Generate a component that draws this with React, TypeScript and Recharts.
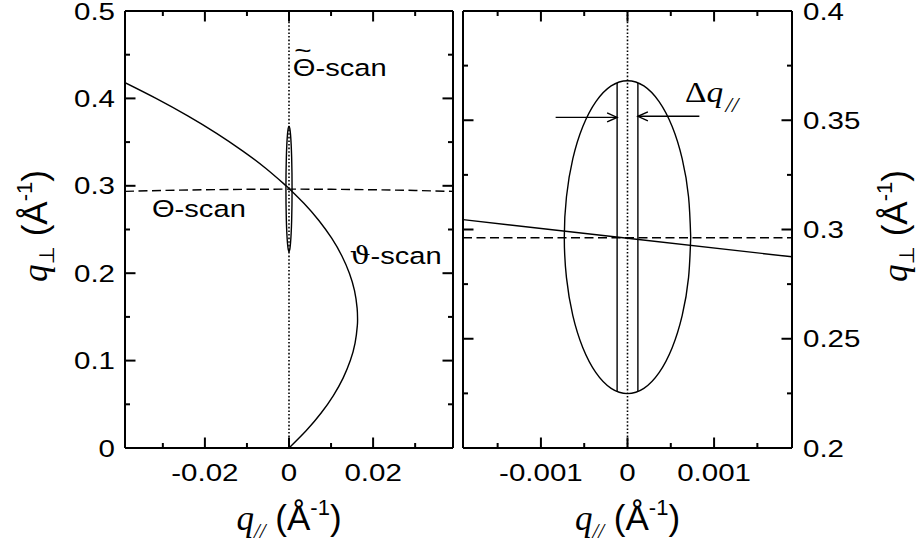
import React from 'react';
import { LineChart, Line, XAxis, YAxis, ReferenceLine, ReferenceDot, Label } from 'recharts';

// ---------------- data ----------------
// left panel (wide range)
const leftXDomain = [-0.039, 0.039];
const leftYDomain = [0, 0.5];
const leftXTicks = [-0.03, -0.02, -0.01, 0, 0.01, 0.02, 0.03];
const leftXMajor = [-0.02, 0, 0.02];
const leftXTickLabels = ['-0.02', '0', '0.02'];
const leftYTicks = [0, 0.05, 0.1, 0.15, 0.2, 0.25, 0.3, 0.35, 0.4, 0.45, 0.5];
const leftYMajor = [0, 0.1, 0.2, 0.3, 0.4, 0.5];
const leftYTickLabels = ['0', '0.1', '0.2', '0.3', '0.4', '0.5'];

// right panel (zoomed)
const rightXDomain = [-0.0019, 0.0019];
const rightYDomain = [0.2, 0.4];
const rightXTicks = [-0.0015, -0.001, -0.0005, 0, 0.0005, 0.001, 0.0015];
const rightXMajor = [-0.001, 0, 0.001];
const rightXTickLabels = ['-0.001', '0', '0.001'];
const rightYTicks = [0.2, 0.225, 0.25, 0.275, 0.3, 0.325, 0.35, 0.375, 0.4];
const rightYMajor = [0.2, 0.25, 0.3, 0.35, 0.4];
const rightYTickLabels = ['0.2', '0.25', '0.3', '0.35', '0.4'];

// vartheta-scan (solid curve)
const varthetaQpar = [0.0, 0.00412, 0.00764, 0.01055, 0.01286, 0.01458, 0.01571, 0.01625, 0.0163, 0.0162, 0.01558, 0.01436, 0.01255, 0.01015, 0.00715, 0.00354, 0.0, -0.00069, -0.00555, -0.01105, -0.01722, -0.02407, -0.03162, -0.039];
const varthetaQperp = [0.0, 0.02, 0.04, 0.06, 0.08, 0.1, 0.12, 0.14, 0.1485, 0.16, 0.18, 0.2, 0.22, 0.24, 0.26, 0.28, 0.297, 0.3, 0.32, 0.34, 0.36, 0.38, 0.4, 0.418];
const varthetaZoomQpar = [-0.0019, 0, 0.0019];
const varthetaZoomQperp = [0.3045, 0.296, 0.2875];

// Theta-scan (dashed)
const thetaQpar = [-0.039, -0.03, -0.02, -0.01, 0, 0.01, 0.02, 0.03, 0.039];
const thetaQperp = [0.2936, 0.2947, 0.2955, 0.296, 0.2962, 0.296, 0.2955, 0.2947, 0.2936];
const thetaZoomQpar = [-0.0019, 0.0019];
const thetaZoomQperp = [0.2962, 0.2962];

// resolution ellipse
const ellipseQpar = [0.00073, 0.000705, 0.000632, 0.000516, 0.000365, 0.000189, 0, -0.000189, -0.000365, -0.000516, -0.000632, -0.000705, -0.00073, -0.000705, -0.000632, -0.000516, -0.000365, -0.000189, 0, 0.000189, 0.000365, 0.000516, 0.000632, 0.000705, 0.00073];
const ellipseQperp = [0.2965, 0.315, 0.3323, 0.3471, 0.3585, 0.3657, 0.3681, 0.3657, 0.3585, 0.3471, 0.3323, 0.315, 0.2965, 0.278, 0.2607, 0.2459, 0.2345, 0.2273, 0.2249, 0.2273, 0.2345, 0.2459, 0.2607, 0.278, 0.2965];

// delta q window (vertical lines)
const slitLeftQpar = [-0.00012, -0.00012];
const slitRightQpar = [0.00012, 0.00012];
const slitQperp = [0.2259, 0.3671];

// arrows [x start, x end], y
const arrowLeftQpar = [-0.00083, -0.00012];
const arrowRightQpar = [0.00083, 0.00012];
const arrowLeftQperp = 0.3513;
const arrowRightQperp = 0.3518;

// annotation anchors (text start, baseline)
const labelThetaScan = { x: -0.0326, y: 0.2645 };
const labelVarthetaScan = { x: 0.01443, y: 0.2102 };
const labelThetaTildeScan = { x: 0.0009, y: 0.4253 };
const labelDeltaQ = { x: 0.000665, y: 0.3583 };

const toPts = (xs: number[], ys: number[]) => xs.map((x, i) => ({ x, y: ys[i] }));

// ---------------- styles ----------------
const SX = 1.24;
const SANS = '"Liberation Sans", Arial, Helvetica, sans-serif';
const SERIF = '"Liberation Serif", "Times New Roman", serif';
const TICK_FS = 23.8;

type Side = 'bottom' | 'top' | 'left' | 'right';

const makeTick = (side: Side, majors: number[], labels: string[] | null) => (props: any) => {
  const { x, y, payload } = props;
  const v = payload.value;
  const idx = majors.findIndex((m) => Math.abs(m - v) < 1e-9);
  const len = idx >= 0 ? 10.5 : 5;
  let x2 = x;
  let y2 = y;
  if (side === 'bottom') y2 = y - len;
  else if (side === 'top') y2 = y + len;
  else if (side === 'left') x2 = x + len;
  else x2 = x - len;
  let label: any = null;
  if (labels && idx >= 0) {
    let tx = x;
    let ty = y;
    let anchor = 'middle';
    if (side === 'bottom') { ty = y + 33; }
    else if (side === 'left') { tx = x - 10; ty = y + 8.5; anchor = 'end'; }
    else if (side === 'right') { tx = x + 11; ty = y + 8.5; anchor = 'start'; }
    label = (
      <text transform={`translate(${tx},${ty}) scale(${SX},1)`} x={0} y={0} textAnchor={anchor}
        fontFamily={SANS} fontSize={TICK_FS} fill="#000">{labels[idx]}</text>
    );
  }
  return (
    <g>
      <line x1={x} y1={y} x2={x2} y2={y2} stroke="#000" strokeWidth={2} />
      {label}
    </g>
  );
};

const XTitle = (props: any) => {
  const vb = props.viewBox;
  const cx = vb.x + vb.width / 2;
  const by = vb.y + 81.5;
  return (
    <text x={cx} y={by} textAnchor="middle" fontFamily={SANS} fontSize={35} fill="#000">
      <tspan fontFamily={SERIF} fontStyle="italic">q</tspan>
      <tspan fontFamily={SERIF} fontStyle="italic" fontSize={21} dy={8}>//</tspan>
      <tspan dy={-8}> (Å</tspan>
      <tspan fontSize={22} dy={-15}>-1</tspan>
      <tspan dy={15}>)</tspan>
    </text>
  );
};

const makeYTitle = (bxAbs: number) => (props: any) => {
  const cy = 226;
  return (
    <text transform={`translate(${bxAbs},${cy}) rotate(-90)`} x={0} y={0} textAnchor="middle"
      fontFamily={SANS} fontSize={35} fill="#000">
      <tspan fontFamily={SERIF} fontStyle="italic">q</tspan>
      <tspan fontFamily={'"DejaVu Sans", sans-serif'} fontSize={21} dy={7}>⊥</tspan>
      <tspan dy={-7}> (Å</tspan>
      <tspan fontSize={22} dy={-15}>-1</tspan>
      <tspan dy={15}>)</tspan>
    </text>
  );
};

const ScanText = ({ cx, cy, greek, tilde, greekFont }: any) => (
  <g transform={`translate(${cx},${cy}) scale(${SX},1)`}>
    <text x={0} y={0} fontFamily={SANS} fontSize={23.5} fill="#000">
      <tspan fontFamily={greekFont || SANS}>{greek}</tspan>-scan
    </text>
    {tilde ? (
      <text x={8.2} y={-17} textAnchor="middle" fontFamily={SANS} fontSize={24} fill="#000">~</text>
    ) : null}
  </g>
);

const DeltaText = ({ cx, cy }: any) => (
  <g transform={`translate(${cx},${cy}) scale(1.15,1)`}>
    <text x={0} y={0} fontFamily={SERIF} fontSize={29} fill="#000">
      <tspan>Δ</tspan>
      <tspan fontStyle="italic">q</tspan>
      <tspan fontStyle="italic" fontSize={20} dy={10} dx={2}>//</tspan>
    </text>
  </g>
);

const ArrowShape = (props: any) => {
  const { x1, y1, x2, y2 } = props;
  const dir = x2 > x1 ? 1 : -1;
  const hl = 10;
  const hw = 4.5;
  return (
    <g>
      <line x1={x1} y1={y1} x2={x2} y2={y2} stroke="#000" strokeWidth={1.4} />
      <polyline points={`${x2 - dir * hl},${y2 - hw} ${x2},${y2} ${x2 - dir * hl},${y2 + hw}`}
        fill="none" stroke="#000" strokeWidth={1.4} />
    </g>
  );
};

const axisLine = { stroke: '#000', strokeWidth: 2 };
const LW = 1.4;
const DOT = '1.6 2';

export default function App() {
  return (
    <div style={{ position: 'absolute', left: 0, top: 0, width: 923, height: 556, background: '#fff', fontFamily: SANS }}>
      {/* Left panel */}
      <div style={{ position: 'absolute', left: 0, top: 0 }}>
        <LineChart width={455} height={556} margin={{ top: 0, right: 0, bottom: 0, left: 0 }} style={{ overflow: 'visible' }}>
          <XAxis xAxisId="b" type="number" dataKey="x" orientation="bottom" domain={leftXDomain} allowDataOverflow
            ticks={leftXTicks} interval={0} height={108} tickSize={0} tickMargin={0} tickLine={false}
            axisLine={axisLine} tick={makeTick('bottom', leftXMajor, leftXTickLabels)}>
            <Label content={XTitle} />
          </XAxis>
          <XAxis xAxisId="t" type="number" dataKey="x" orientation="top" domain={leftXDomain} allowDataOverflow
            ticks={leftXTicks} interval={0} height={11} tickSize={0} tickMargin={0} tickLine={false}
            axisLine={axisLine} tick={makeTick('top', leftXMajor, null)} />
          <YAxis yAxisId="l" type="number" orientation="left" domain={leftYDomain} allowDataOverflow
            ticks={leftYTicks} interval={0} width={125} tickSize={0} tickMargin={0} tickLine={false}
            axisLine={axisLine} tick={makeTick('left', leftYMajor, leftYTickLabels)}>
            <Label content={makeYTitle(47)} />
          </YAxis>
          <YAxis yAxisId="r" type="number" orientation="right" domain={leftYDomain} allowDataOverflow
            ticks={leftYTicks} interval={0} width={2} tickSize={0} tickMargin={0} tickLine={false}
            axisLine={axisLine} tick={makeTick('right', leftYMajor, null)} />

          <ReferenceLine xAxisId="b" yAxisId="l" x={0} stroke="#000" strokeWidth={1.6} strokeDasharray={DOT} />
          <Line xAxisId="b" yAxisId="l" data={toPts(thetaQpar, thetaQperp)} dataKey="y" type="linear"
            stroke="#000" strokeWidth={LW} strokeDasharray="9 4.5" dot={false} activeDot={false} isAnimationActive={false} />
          <Line xAxisId="b" yAxisId="l" data={toPts(varthetaQpar, varthetaQperp)} dataKey="y" type="natural"
            stroke="#000" strokeWidth={LW} dot={false} activeDot={false} isAnimationActive={false} />
          <Line xAxisId="b" yAxisId="l" data={toPts(ellipseQpar, ellipseQperp)} dataKey="y" type="natural"
            stroke="#000" strokeWidth={LW} dot={false} activeDot={false} isAnimationActive={false} />

          <ReferenceDot xAxisId="b" yAxisId="l" x={labelThetaScan.x} y={labelThetaScan.y} r={1}
            shape={(p: any) => <ScanText cx={p.cx} cy={p.cy} greek="Θ" />} />
          <ReferenceDot xAxisId="b" yAxisId="l" x={labelVarthetaScan.x} y={labelVarthetaScan.y} r={1}
            shape={(p: any) => <ScanText cx={p.cx} cy={p.cy} greek="ϑ" greekFont={'"DejaVu Serif", serif'} />} />
          <ReferenceDot xAxisId="b" yAxisId="l" x={labelThetaTildeScan.x} y={labelThetaTildeScan.y} r={1}
            shape={(p: any) => <ScanText cx={p.cx} cy={p.cy} greek="Θ" tilde />} />
        </LineChart>
      </div>

      {/* Right panel */}
      <div style={{ position: 'absolute', left: 451, top: 0 }}>
        <LineChart width={472} height={556} margin={{ top: 0, right: 0, bottom: 0, left: 0 }} style={{ overflow: 'visible' }}>
          <XAxis xAxisId="b" type="number" dataKey="x" orientation="bottom" domain={rightXDomain} allowDataOverflow
            ticks={rightXTicks} interval={0} height={108} tickSize={0} tickMargin={0} tickLine={false}
            axisLine={axisLine} tick={makeTick('bottom', rightXMajor, rightXTickLabels)}>
            <Label content={XTitle} />
          </XAxis>
          <XAxis xAxisId="t" type="number" dataKey="x" orientation="top" domain={rightXDomain} allowDataOverflow
            ticks={rightXTicks} interval={0} height={11} tickSize={0} tickMargin={0} tickLine={false}
            axisLine={axisLine} tick={makeTick('top', rightXMajor, null)} />
          <YAxis yAxisId="l" type="number" orientation="left" domain={rightYDomain} allowDataOverflow
            ticks={rightYTicks} interval={0} width={12} tickSize={0} tickMargin={0} tickLine={false}
            axisLine={axisLine} tick={makeTick('left', rightYMajor, null)} />
          <YAxis yAxisId="r" type="number" orientation="right" domain={rightYDomain} allowDataOverflow
            ticks={rightYTicks} interval={0} width={131} tickSize={0} tickMargin={0} tickLine={false}
            axisLine={axisLine} tick={makeTick('right', rightYMajor, rightYTickLabels)}>
            <Label content={makeYTitle(907 - 451)} />
          </YAxis>

          <ReferenceLine xAxisId="b" yAxisId="r" x={0} stroke="#000" strokeWidth={1.6} strokeDasharray={DOT} />
          <Line xAxisId="b" yAxisId="r" data={toPts(thetaZoomQpar, thetaZoomQperp)} dataKey="y" type="linear"
            stroke="#000" strokeWidth={LW} strokeDasharray="9 4.5" dot={false} activeDot={false} isAnimationActive={false} />
          <Line xAxisId="b" yAxisId="r" data={toPts(varthetaZoomQpar, varthetaZoomQperp)} dataKey="y" type="linear"
            stroke="#000" strokeWidth={LW} dot={false} activeDot={false} isAnimationActive={false} />
          <Line xAxisId="b" yAxisId="r" data={toPts(ellipseQpar, ellipseQperp)} dataKey="y" type="natural"
            stroke="#000" strokeWidth={LW} dot={false} activeDot={false} isAnimationActive={false} />
          <Line xAxisId="b" yAxisId="r" data={toPts(slitLeftQpar, slitQperp)} dataKey="y" type="linear"
            stroke="#000" strokeWidth={LW} dot={false} activeDot={false} isAnimationActive={false} />
          <Line xAxisId="b" yAxisId="r" data={toPts(slitRightQpar, slitQperp)} dataKey="y" type="linear"
            stroke="#000" strokeWidth={LW} dot={false} activeDot={false} isAnimationActive={false} />

          <ReferenceLine xAxisId="b" yAxisId="r"
            segment={[{ x: arrowLeftQpar[0], y: arrowLeftQperp }, { x: arrowLeftQpar[1], y: arrowLeftQperp }]}
            shape={ArrowShape} />
          <ReferenceLine xAxisId="b" yAxisId="r"
            segment={[{ x: arrowRightQpar[0], y: arrowRightQperp }, { x: arrowRightQpar[1], y: arrowRightQperp }]}
            shape={ArrowShape} />

          <ReferenceDot xAxisId="b" yAxisId="r" x={labelDeltaQ.x} y={labelDeltaQ.y} r={1}
            shape={(p: any) => <DeltaText cx={p.cx} cy={p.cy} />} />
        </LineChart>
      </div>
    </div>
  );
}
